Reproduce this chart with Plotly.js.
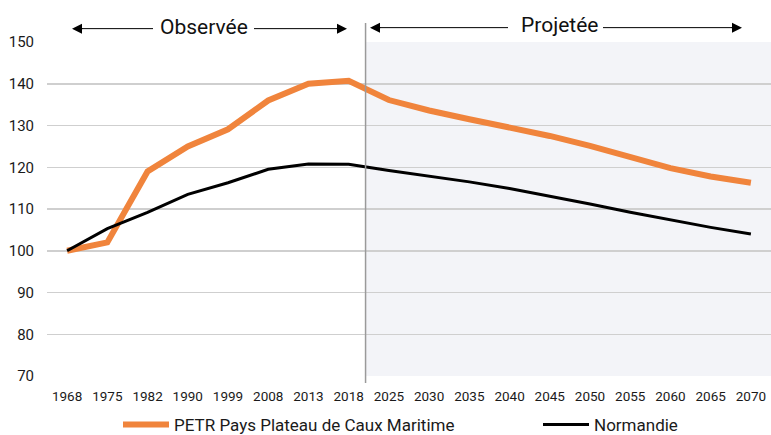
<!DOCTYPE html>
<html>
<head>
<meta charset="utf-8">
<script src="https://cdn.plot.ly/plotly-3.0.1.min.js"></script>
<style>html,body{margin:0;padding:0;background:#fff;}#chart{width:771px;height:435px;}</style>
</head>
<body>
<div id="chart"></div>
<script>
const years = ['1968','1975','1982','1990','1999','2008','2013','2018','2025','2030','2035','2040','2045','2050','2055','2060','2065','2070'];
const petr = [100, 102, 119, 125, 129.1, 136, 140, 140.7, 136.1, 133.6, 131.5, 129.6, 127.5, 125.1, 122.4, 119.8, 117.8, 116.3];
const normandie = [100, 105.3, 109.2, 113.5, 116.3, 119.5, 120.8, 120.7, 119.2, 117.9, 116.5, 114.9, 113.1, 111.2, 109.2, 107.4, 105.6, 104.0];
const seriesNames = ['PETR Pays Plateau de Caux Maritime', 'Normandie'];
const periodLabels = ['Observée', 'Projetée'];
const yTicks = [70, 80, 90, 100, 110, 120, 130, 140, 150];

const FONT = 'Roboto, "Liberation Sans", sans-serif';

const traces = [
  {x: years, y: petr, name: seriesNames[0], type: 'scatter', mode: 'lines',
   line: {color: '#F0843C', width: 6}, legend: 'legend'},
  {x: years, y: normandie, name: seriesNames[1], type: 'scatter', mode: 'lines',
   line: {color: '#000000', width: 3}, legend: 'legend2'}
];

const arrowCommon = {xref: 'paper', yref: 'paper', text: '', showarrow: true,
  arrowhead: 2, arrowsize: 2, arrowwidth: 1, arrowcolor: '#000', axref: 'pixel', ayref: 'pixel', ay: 0};

const legendFont = {size: 17, family: FONT, color: '#1a1a1a'};

const layout = {
  width: 771, height: 435,
  margin: {l: 47, r: 0, t: 42, b: 59},
  paper_bgcolor: '#fff', plot_bgcolor: '#fff',
  font: {family: FONT, color: '#1a1a1a'},
  showlegend: true,
  legend: {orientation: 'h', xref: 'container', yref: 'container', x: 118/771, y: 10/435,
    xanchor: 'left', yanchor: 'middle', font: legendFont, itemwidth: 46, bgcolor: 'rgba(0,0,0,0)'},
  legend2: {orientation: 'h', xref: 'container', yref: 'container', x: 538/771, y: 10/435,
    xanchor: 'left', yanchor: 'middle', font: legendFont, itemwidth: 46, bgcolor: 'rgba(0,0,0,0)'},
  xaxis: {type: 'category', range: [-0.5, 17.5], showgrid: false, zeroline: false,
    showline: false, ticks: '', tickfont: {size: 13.5, family: FONT, color: '#1a1a1a'}, ticklabelstandoff: 10,
    fixedrange: true},
  yaxis: {range: [70, 150], tickvals: yTicks, showgrid: true, gridcolor: '#cfcfcf', gridwidth: 1.5,
    zeroline: false, showline: false, ticks: '', ticklabelstandoff: 12,
    tickfont: {size: 15, family: FONT, color: '#1a1a1a'}, fixedrange: true},
  shapes: [
    {type: 'rect', xref: 'x', yref: 'y', x0: 7.43, x1: 17.5, y0: 70, y1: 150,
     fillcolor: '#F3F4F8', line: {width: 0}, layer: 'below'},
    {type: 'line', xref: 'x', yref: 'paper', x0: 7.42, x1: 7.42, y0: -0.021, y1: 1.057,
     line: {color: '#9a9a9a', width: 1.5}, layer: 'above'},
    {type: 'line', xref: 'paper', yref: 'paper', x0: (78-47)/724, x1: (153-47)/724, y0: 1.04, y1: 1.04,
     line: {color: '#000', width: 1}},
    {type: 'line', xref: 'paper', yref: 'paper', x0: (254-47)/724, x1: (340-47)/724, y0: 1.04, y1: 1.04,
     line: {color: '#000', width: 1}},
    {type: 'line', xref: 'paper', yref: 'paper', x0: (376-47)/724, x1: (508-47)/724, y0: 1.043, y1: 1.043,
     line: {color: '#000', width: 1}},
    {type: 'line', xref: 'paper', yref: 'paper', x0: (603-47)/724, x1: (736-47)/724, y0: 1.043, y1: 1.043,
     line: {color: '#000', width: 1}}
  ],
  annotations: [
    {xref: 'paper', yref: 'paper', x: (204-47)/724, y: 1.045, text: periodLabels[0], showarrow: false,
     font: {size: 21, family: FONT, color: '#111'}, xanchor: 'center', yanchor: 'middle'},
    {xref: 'paper', yref: 'paper', x: (559-47)/724, y: 1.05, text: periodLabels[1], showarrow: false,
     font: {size: 21, family: FONT, color: '#111'}, xanchor: 'center', yanchor: 'middle'},
    Object.assign({}, arrowCommon, {x: (72-47)/724, y: 1.04, ax: 12}),
    Object.assign({}, arrowCommon, {x: (347-47)/724, y: 1.04, ax: -12}),
    Object.assign({}, arrowCommon, {x: (370-47)/724, y: 1.043, ax: 12}),
    Object.assign({}, arrowCommon, {x: (742-47)/724, y: 1.043, ax: -12})
  ]
};

Plotly.newPlot('chart', traces, layout, {displayModeBar: false, staticPlot: true});
</script>
</body>
</html>
